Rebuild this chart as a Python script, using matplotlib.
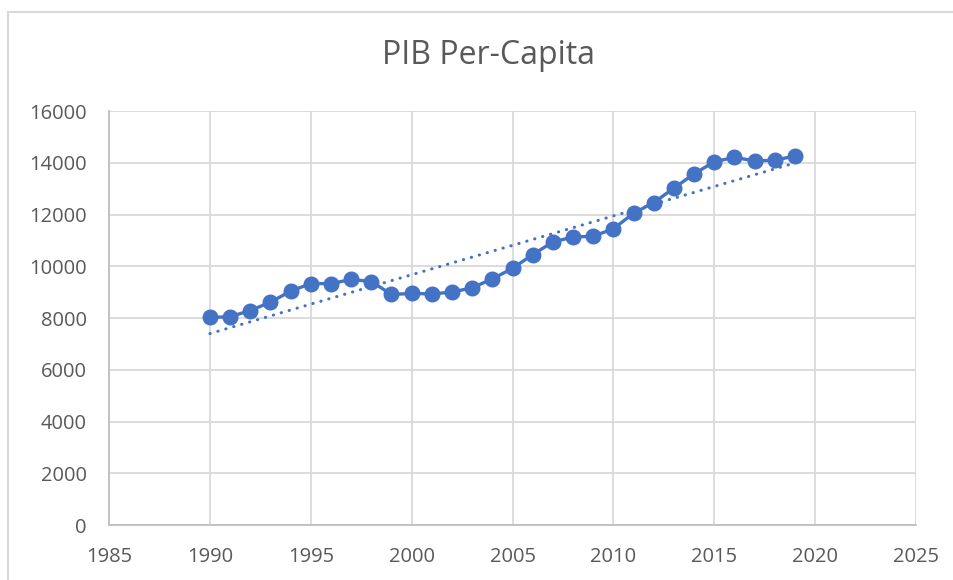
"""PIB per-capita line chart with linear trendline."""

import matplotlib

matplotlib.use("Agg")
import matplotlib.pyplot as plt  # noqa: E402
import numpy as np  # noqa: E402
from matplotlib.patches import Rectangle  # noqa: E402

years = list(range(1990, 2020))
pib = [
    8020, 8050, 8290, 8610, 9040, 9330, 9330, 9490, 9410, 8910,
    8950, 8930, 9000, 9170, 9510, 9920, 10450, 10940, 11130, 11160,
    11450, 12050, 12460, 13020, 13570, 14040, 14210, 14070, 14100, 14260,
]
x_ticks = list(range(1985, 2030, 5))
y_ticks = list(range(0, 18000, 2000))

blue = "#4472C4"
grey_text = "#595959"
grid_grey = "#d9d9d9"

plt.rcParams["font.family"] = ["Open Sans", "DejaVu Sans"]

fig = plt.figure(figsize=(9.54, 5.8), dpi=100)
ax = fig.add_axes([0.1143, 0.0948, 0.8459, 0.7138])

# Outer chart frame (cut off at right and bottom like the source)
fig.patches.append(
    Rectangle((8.5 / 954, -0.1), 2.0, 1 - 11.5 / 580 + 0.1,
              transform=fig.transFigure, fill=False,
              edgecolor=grid_grey, linewidth=1.5)
)

ax.plot(years, pib, color=blue, linewidth=2.4, marker="o",
        markersize=10.5, zorder=3)

# Linear trendline
coef = np.polyfit(years, pib, 1)
trend = np.polyval(coef, years)
ax.plot(years, trend, color=blue, linewidth=2.2,
        linestyle=(0, (0.1, 2.6)), dash_capstyle="round", zorder=2)

ax.set_xlim(1985, 2025)
ax.set_ylim(0, 16000)
ax.set_xticks(x_ticks)
ax.set_yticks(y_ticks)
ax.tick_params(length=0, labelsize=14.5, colors=grey_text)
ax.tick_params(axis="y", pad=16)
ax.tick_params(axis="x", pad=16)
ax.grid(True, color=grid_grey, linewidth=1.3)
ax.set_axisbelow(True)
for side in ("top", "right"):
    ax.spines[side].set_visible(False)
for side in ("left", "bottom"):
    ax.spines[side].set_color("#bfbfbf")
    ax.spines[side].set_linewidth(1.3)

fig.text(489 / 954, 1 - 56 / 580, "PIB Per-Capita", ha="center", va="center",
         fontsize=23, color=grey_text)

fig.savefig("out.png", dpi=100)
